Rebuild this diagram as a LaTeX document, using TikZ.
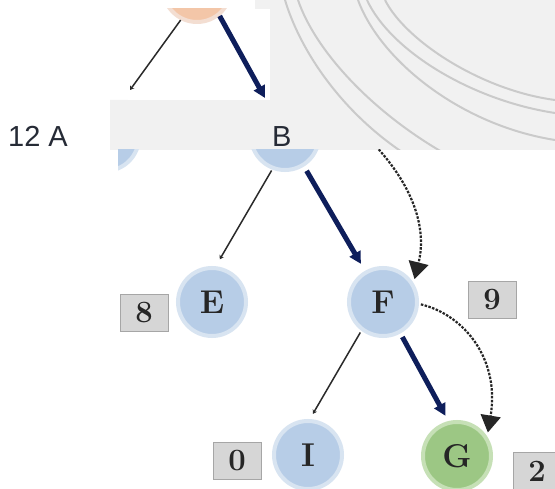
\documentclass[tikz,border=0pt]{standalone}
\usepackage{fontspec}
\newfontfamily\sansf{Liberation Sans}
\usetikzlibrary{arrows.meta}
\definecolor{nodeblue}{HTML}{B7CDE7}
\definecolor{ringblue}{HTML}{D8E4F1}
\definecolor{peach}{HTML}{F3C6A8}
\definecolor{ringpeach}{HTML}{F3DED2}
\definecolor{gnode}{HTML}{9CC784}
\definecolor{ringgreen}{HTML}{C6E0B6}
\definecolor{navy}{HTML}{0E1E5B}
\definecolor{boxfill}{HTML}{D6D6D6}
\definecolor{boxdraw}{HTML}{A6A6A6}
\definecolor{lbl}{HTML}{262B36}
\definecolor{bgg}{HTML}{F1F1F1}
\definecolor{swirl}{HTML}{CACACA}
\definecolor{thinl}{HTML}{2A2A2A}
\tikzset{
  tnode/.style={circle,minimum size=68pt,inner sep=0pt,line width=4pt,
    draw=ringblue,fill=nodeblue,font=\fontsize{33}{33}\selectfont\bfseries,text=black!85},
  gnodestyle/.style={tnode,draw=ringgreen,fill=gnode},
  pnode/.style={tnode,draw=ringpeach,fill=peach},
  valbox/.style={rectangle,minimum width=48pt,minimum height=37pt,inner sep=0pt,
    draw=boxdraw,line width=1pt,fill=boxfill,font=\fontsize{31}{31}\selectfont\bfseries,text=black!85},
  thinedge/.style={draw=thinl,line width=1.5pt,-{Stealth[length=4pt,width=5pt]}},
  thickedge/.style={draw=navy,line width=5pt,-{Triangle[length=12pt,width=12pt]}},
  dashedge/.style={draw=black!85,line width=2.2pt,dash pattern=on 2.5pt off 1.4pt,
    -{Triangle[length=17pt,width=20pt]}},
  swirlline/.style={draw=swirl,line width=2pt},
  toplabel/.style={font=\sansf\fontsize{29}{29}\selectfont,text=lbl,inner sep=0pt}
}
\begin{document}
\begin{tikzpicture}[x=1pt,y=-1pt]
\useasboundingbox (0,0) rectangle (555,489);
\fill[white] (0,0) rectangle (555,489);
% grey textured background
\fill[bgg] (255,0) -- (555,0) -- (555,150) -- (110,150) -- (110,100) -- (255,100) -- cycle;
\begin{scope}
\clip (255,0) -- (555,0) -- (555,150) -- (110,150) -- (110,100) -- (255,100) -- cycle;
\draw[swirlline] (285,0) .. controls (300,50) and (340,110) .. (402,152);
\draw[swirlline] (298,0) .. controls (315,50) and (370,110) .. (442,152);
\draw[swirlline] (358,0) .. controls (380,60) and (460,125) .. (555,140);
\draw[swirlline] (367,0) .. controls (390,50) and (470,100) .. (555,113);
\draw[swirlline] (385,0) .. controls (405,40) and (480,90) .. (555,100);
\end{scope}
% upper white picture
\fill[white] (128,9) rectangle (270,100);
\begin{scope}
\clip (128,9) rectangle (270,100);
\node[pnode] (P) at (197,-12) {};
\coordinate (pl) at (130,90);
\coordinate (pr) at (265,98);
\draw[thinedge] (P.243) -- (pl);
\draw[thickedge] (P.309) -- (pr);
\end{scope}
% labels between
\node[toplabel,anchor=base west] (lab12) at (8,147) {12 A};
\node[toplabel,anchor=base west] (labB) at (272,147) {B};
% lower white picture
\fill[white] (118,150) rectangle (555,489);
\begin{scope}
\clip (118,150) rectangle (555,489);
\node[tnode] (L) at (105,137) {};
\node[tnode] (B) at (285,136) {};
\node[tnode] (E) at (212,302) {E};
\node[tnode] (F) at (383,302) {F};
\node[tnode] (I) at (308,455) {I};
\node[gnodestyle] (G) at (457,456) {G};
\node[valbox] (v8) at (144,313) {8};
\node[valbox] (v9) at (492,300) {9};
\node[valbox] (v0) at (237,461) {0};
\node[valbox] (v2) at (537,471) {2};
\draw[thinedge,shorten <=1pt,shorten >=8pt] (B.249) -- (E.84);
\draw[thickedge,shorten <=5pt,shorten >=8pt] (B.302) -- (F.120);
\draw[thinedge,shorten <=2pt,shorten >=6pt] (F.233) -- (I.87);
\draw[thickedge,shorten <=4pt,shorten >=6pt] (F.299) -- (G.104);
\coordinate (dtop) at (368,138);
\draw[dashedge,shorten >=4pt] (dtop) .. controls (410,180) and (428,225) .. (F.32);
\draw[dashedge,shorten <=2pt,shorten >=4pt] (F.-3) .. controls (465,315) and (500,360) .. (G.33);
\end{scope}
\end{tikzpicture}
\end{document}
